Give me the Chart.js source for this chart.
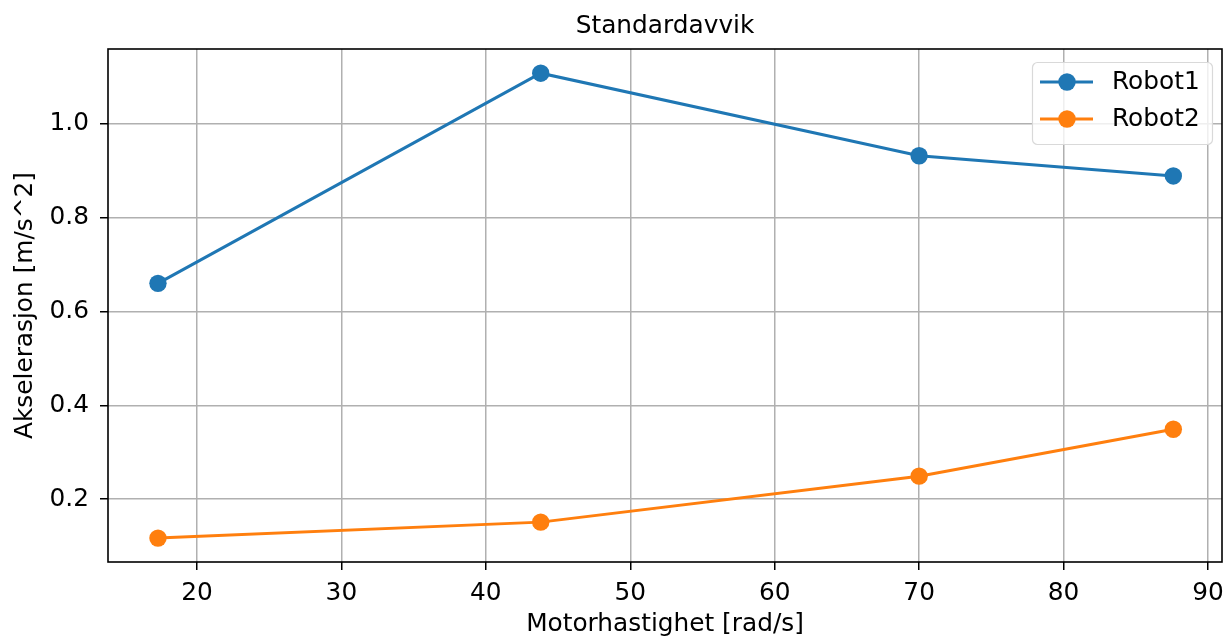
<!DOCTYPE html>
<html>
<head>
<meta charset="utf-8">
<script src="https://cdn.jsdelivr.net/npm/chart.js@4"></script>
<style>
  html, body { margin: 0; padding: 0; background: #fff; }
  #wrap { width: 1224px; height: 639px; }
</style>
</head>
<body>
<div id="wrap"><canvas id="chart"></canvas></div>
<script>
// data
const speeds = [17.3, 43.8, 70.0, 87.6];
const robot1 = [0.660, 1.108, 0.932, 0.889];
const robot2 = [0.117, 0.151, 0.249, 0.349];
const seriesNames = ['Robot1', 'Robot2'];
const xTicks = [20, 30, 40, 50, 60, 70, 80, 90];
const yTicks = [0.2, 0.4, 0.6, 0.8, 1.0];
const chartTitle = 'Standardavvik';

const FONT = 'DejaVu Sans';
const SIZE = 24.8;
const blue = '#1f77b4';
const orange = '#ff7f0e';

function toPoints(xs, ys) {
    return xs.map((x, i) => ({ x: x, y: ys[i] }));
}

// frame on all four sides + title centred over the plot area, like matplotlib
const frame = {
    id: 'frame',
    afterDatasetsDraw: (chart) => {
        const { ctx, chartArea: a } = chart;
        ctx.save();
        ctx.strokeStyle = '#000';
        ctx.lineWidth = 1.6;
        ctx.strokeRect(a.left, a.top, a.right - a.left, a.bottom - a.top);
        ctx.fillStyle = '#000';
        ctx.font = `${SIZE}px ${FONT}`;
        ctx.textAlign = 'center';
        ctx.textBaseline = 'alphabetic';
        ctx.fillText(chartTitle, (a.left + a.right) / 2, 33);
        ctx.restore();
    }
};

// legend box in the upper right corner of the plot
const boxLegend = {
    id: 'boxLegend',
    afterDraw: (chart) => {
        const { ctx, chartArea: a } = chart;
        const w = 180, h = 82;
        const x0 = a.right - 10 - w, y0 = a.top + 13;
        ctx.save();
        ctx.fillStyle = 'rgba(255,255,255,0.8)';
        ctx.strokeStyle = '#d9d9d9';
        ctx.lineWidth = 1.2;
        ctx.beginPath();
        ctx.roundRect(x0 + 0.5, y0 + 0.5, w, h, 5);
        ctx.fill();
        ctx.stroke();
        ctx.font = `${SIZE}px ${FONT}`;
        ctx.textBaseline = 'middle';
        chart.data.datasets.forEach((ds, i) => {
            const y = y0 + 20 + i * 37;
            ctx.strokeStyle = ds.borderColor;
            ctx.lineWidth = 3;
            ctx.beginPath();
            ctx.moveTo(x0 + 8, y);
            ctx.lineTo(x0 + 61, y);
            ctx.stroke();
            ctx.fillStyle = ds.backgroundColor;
            ctx.beginPath();
            ctx.arc(x0 + 35, y, 8.7, 0, Math.PI * 2);
            ctx.fill();
            ctx.fillStyle = '#000';
            ctx.fillText(ds.label, x0 + 80, y + 1);
        });
        ctx.restore();
    }
};

const ctx = document.getElementById('chart').getContext('2d');
new Chart(ctx, {
    type: 'line',
    data: {
        datasets: [
            {
                label: seriesNames[0],
                data: toPoints(speeds, robot1),
                borderColor: blue,
                backgroundColor: blue,
                borderWidth: 3,
                pointRadius: 8.7,
                pointBorderWidth: 0,
                pointHoverRadius: 8.7,
                tension: 0
            },
            {
                label: seriesNames[1],
                data: toPoints(speeds, robot2),
                borderColor: orange,
                backgroundColor: orange,
                borderWidth: 3,
                pointRadius: 8.7,
                pointBorderWidth: 0,
                pointHoverRadius: 8.7,
                tension: 0
            }
        ]
    },
    options: {
        responsive: true,
        maintainAspectRatio: false,
        animation: false,
        layout: {
            autoPadding: false,
            padding: { left: 0, right: 2, top: 49, bottom: 0 }
        },
        plugins: {
            legend: { display: false },
            tooltip: { enabled: false },
            title: { display: false }
        },
        scales: {
            x: {
                type: 'linear',
                min: 13.84,
                max: 90.97,
                afterBuildTicks: (scale) => {
                    scale.ticks = xTicks.map(v => ({ value: v }));
                },
                afterFit: (scale) => {
                    scale.height = 77;
                    scale.paddingLeft = 0;
                    scale.paddingRight = 0;
                },
                border: { display: false },
                grid: {
                    color: '#b0b0b0',
                    lineWidth: 1.5,
                    tickColor: '#000',
                    tickWidth: 1.5,
                    tickLength: 8
                },
                ticks: {
                    color: '#000',
                    font: { family: FONT, size: SIZE },
                    padding: 9,
                    maxRotation: 0,
                    autoSkip: false,
                    callback: (v) => String(v)
                },
                title: {
                    display: true,
                    text: 'Motorhastighet [rad/s]',
                    color: '#000',
                    font: { family: FONT, size: SIZE, lineHeight: 1.2 },
                    padding: { top: 0, bottom: 0 }
                }
            },
            y: {
                type: 'linear',
                min: 0.066,
                max: 1.1596,
                afterBuildTicks: (scale) => {
                    scale.ticks = yTicks.map(v => ({ value: v }));
                },
                afterFit: (scale) => {
                    scale.width = 108;
                    scale.paddingTop = 0;
                    scale.paddingBottom = 0;
                },
                border: { display: false },
                grid: {
                    color: '#b0b0b0',
                    lineWidth: 1.5,
                    tickColor: '#000',
                    tickWidth: 1.5,
                    tickLength: 8
                },
                ticks: {
                    color: '#000',
                    font: { family: FONT, size: SIZE },
                    padding: 11,
                    autoSkip: false,
                    callback: (v) => Number(v).toFixed(1)
                },
                title: {
                    display: true,
                    text: 'Akselerasjon [m/s^2]',
                    color: '#000',
                    font: { family: FONT, size: SIZE, lineHeight: 1.2 },
                    padding: { top: 11, bottom: 0 }
                }
            }
        }
    },
    plugins: [frame, boxLegend]
});
</script>
</body>
</html>
